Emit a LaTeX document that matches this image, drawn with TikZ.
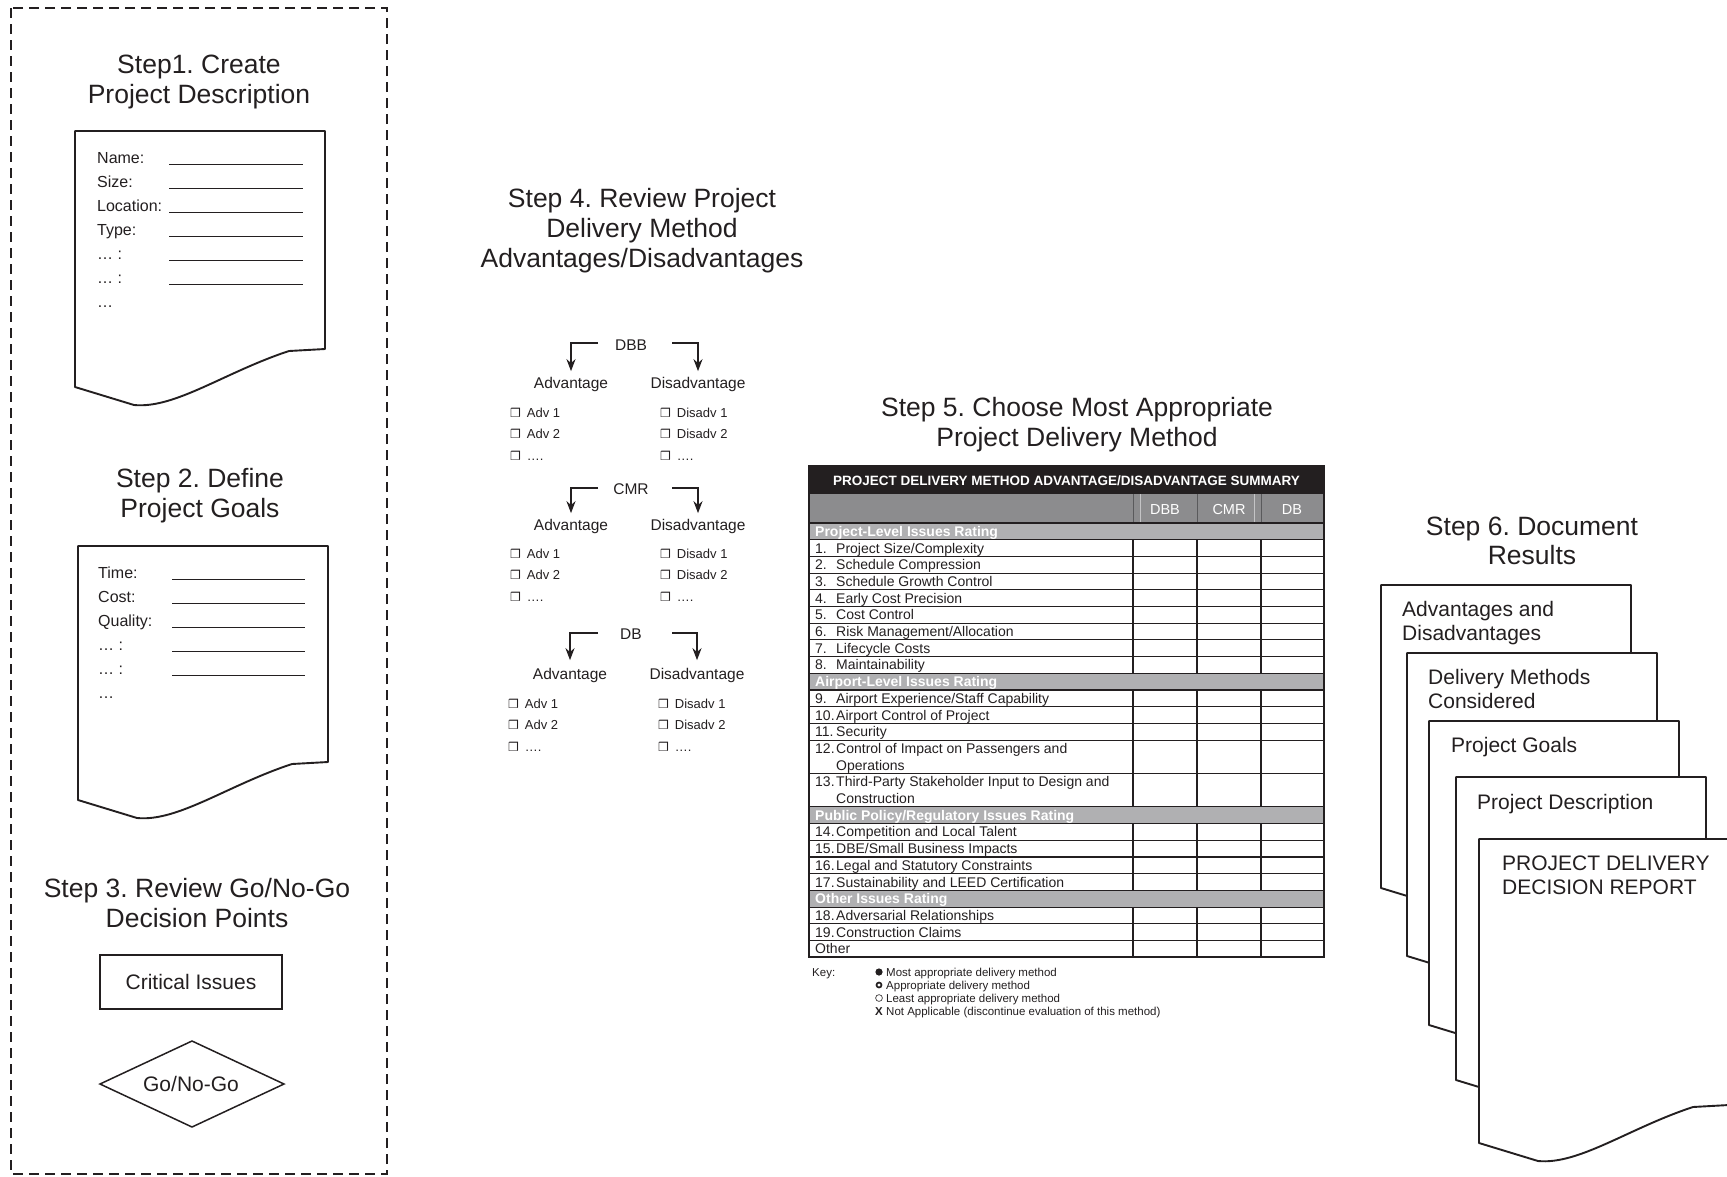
\documentclass[tikz,border=0pt]{standalone}
\usepackage{fontspec}
\setmainfont{Liberation Sans}
\newfontfamily\dejavu{DejaVu Sans}
\usetikzlibrary{arrows.meta}
\definecolor{ink}{HTML}{231F20}
\definecolor{hdrblack}{HTML}{231F20}
\definecolor{hdrgrey}{HTML}{8C8C8E}
\definecolor{secgrey}{HTML}{B0B0B2}
\definecolor{lightline}{HTML}{C4C4C6}
\definecolor{darkline}{HTML}{5A5A5C}
\newcommand\fsz[2]{\fontsize{#1}{#2}\selectfont}
% document shape: #1 left x, #2 left-bottom y, #3 left height
\newcommand\docshape[3]{%
  \path[docsty,shift={(#1,#2)}] (0,-#3) -- (250,-#3) -- (250,-38) -- (214,-36)
    .. controls (150,-15) and (100,22) .. (59,18) -- (0,0) -- cycle;}
% table row: #1 name, #2 row unit, #3 number, #4 text
\newcommand\trow[4]{%
  \node[tcell] (#1n) at (815,#2+0.8) {#3};
  \node[tcell] (#1) at (836,#2+0.8) {#4};}
\newcommand\chk{{\dejavu\fsz{12}{14}❒}\hspace{6pt}}
\frenchspacing
\begin{document}
\frenchspacing
\begin{tikzpicture}[x=1pt,y=-1pt,
  every node/.style={inner sep=0pt, text=ink},
  title/.style={anchor=base, font=\fsz{26.5}{30}},
  formlbl/.style={anchor=base west, font=\fsz{16}{19}},
  formline/.style={draw=ink, line width=0.8pt},
  docsty/.style={draw=ink, fill=white, line width=1.9pt, line join=round},
  method/.style={anchor=base, font=\fsz{15.5}{18}},
  item/.style={anchor=base west, font=\fsz{13}{15}},
  arr/.style={draw=ink, line width=2.4pt, -{Stealth[length=12pt,width=9pt]}},
  tcell/.style={anchor=base west, font=\fsz{14}{16}},
  tsec/.style={anchor=base west, font=\bfseries\fsz{14}{16}, text=white},
  tline/.style={draw=ink, line width=1.1pt},
  keytxt/.style={anchor=base west, font=\fsz{11.5}{13}},
  stacktxt/.style={anchor=base west, font=\fsz{21}{24}}]
\useasboundingbox (0,0) rectangle (1727,1176);
\clip (0,0) rectangle (1727,1176);

% ---------- dashed frame ----------
\draw[ink, line width=2.2pt, dash pattern=on 10pt off 6pt] (11,8) rectangle (387,1174);

% ---------- Step 1 ----------
\node[title] (t1a) at (199,73.5) {Step1. Create};
\node[title] (t1b) at (199,103.5) {Project Description};
\docshape{75}{387}{256}
\node[formlbl] (d1a) at (97,163) {Name:};
\node[formlbl] (d1b) at (97,187) {Size:};
\node[formlbl] (d1c) at (97,211) {Location:};
\node[formlbl] (d1d) at (97,235) {Type:};
\node[formlbl] (d1e) at (97,259) {… :};
\node[formlbl] (d1f) at (97,283) {… :};
\node[formlbl] (d1g) at (97,307) {…};
\foreach \yy in {163,187,211,235,259,283}
  \draw[formline] (169,\yy+1) -- (303,\yy+1);

% ---------- Step 2 ----------
\node[title] (t2a) at (200,487.5) {Step 2. Define};
\node[title] (t2b) at (200,517.5) {Project Goals};
\docshape{78}{800}{254}
\node[formlbl] (d2a) at (98,578) {Time:};
\node[formlbl] (d2b) at (98,602) {Cost:};
\node[formlbl] (d2c) at (98,626) {Quality:};
\node[formlbl] (d2d) at (98,650) {… :};
\node[formlbl] (d2e) at (98,674) {… :};
\node[formlbl] (d2f) at (98,698) {…};
\foreach \yy in {578,602,626,650,674}
  \draw[formline] (172,\yy+1) -- (305,\yy+1);

% ---------- Step 3 ----------
\node[title] (t3a) at (197,897.5) {Step 3. Review Go/No-Go};
\node[title] (t3b) at (197,927.5) {Decision Points};
\node[draw=ink, line width=1.9pt, minimum width=182pt, minimum height=54pt,
      font=\fsz{21}{25}] (crit) at (191,982) {Critical Issues};
\draw[ink, line width=1.5pt, line join=miter] (100,1084) -- (192,1041) -- (284,1084) -- (192,1127) -- cycle;
\node[font=\fsz{21}{25}] (gng) at (191,1084) {Go/No-Go};

% ---------- Step 4 ----------
\node[title] (t4a) at (642,207.5) {Step 4. Review Project};
\node[title] (t4b) at (642,237.5) {Delivery Method};
\node[title] (t4c) at (642,267.5) {Advantages/Disadvantages};

% DBB
\node[method] (dbb) at (631,350.5) {DBB};
\node[method] (advA) at (571,388.6) {Advantage};
\node[method] (disA) at (698,388.6) {Disadvantage};
\coordinate (dbbL) at (598,343);
\coordinate (dbbR) at (672,343);
\draw[arr] (dbbL) -| ([yshift=6pt]advA.north);
\draw[arr] (dbbR) -| ([yshift=6pt]disA.north);
\node[item] (a11) at (510,417) {\chk Adv 1};
\node[item] (a12) at (510,438.5) {\chk Adv 2};
\node[item] (a13) at (510,460) {\chk ….};
\node[item] (b11) at (660,417) {\chk Disadv 1};
\node[item] (b12) at (660,438.5) {\chk Disadv 2};
\node[item] (b13) at (660,460) {\chk ….};

% CMR
\node[method] (cmr) at (631,494.5) {CMR};
\node[method] (advB) at (571,530.6) {Advantage};
\node[method] (disB) at (698,530.6) {Disadvantage};
\coordinate (cmrL) at (598,488);
\coordinate (cmrR) at (672,488);
\draw[arr] (cmrL) -| ([yshift=6pt]advB.north);
\draw[arr] (cmrR) -| ([yshift=6pt]disB.north);
\node[item] (a21) at (510,558) {\chk Adv 1};
\node[item] (a22) at (510,579.5) {\chk Adv 2};
\node[item] (a23) at (510,601) {\chk ….};
\node[item] (b21) at (660,558) {\chk Disadv 1};
\node[item] (b22) at (660,579.5) {\chk Disadv 2};
\node[item] (b23) at (660,601) {\chk ….};

% DB
\node[method] (db) at (631,639.5) {DB};
\node[method] (advC) at (570,679.6) {Advantage};
\node[method] (disC) at (697,679.6) {Disadvantage};
\coordinate (dbL) at (598,633);
\coordinate (dbR) at (672,633);
\draw[arr] (dbL) -| ([yshift=8pt]advC.north);
\draw[arr] (dbR) -| ([yshift=8pt]disC.north);
\node[item] (a31) at (508,708) {\chk Adv 1};
\node[item] (a32) at (508,729.5) {\chk Adv 2};
\node[item] (a33) at (508,751) {\chk ….};
\node[item] (b31) at (658,708) {\chk Disadv 1};
\node[item] (b32) at (658,729.5) {\chk Disadv 2};
\node[item] (b33) at (658,751) {\chk ….};

% ---------- Step 5 ----------
\node[title] (t5a) at (1077,416.5) {Step 5. Choose Most Appropriate};
\node[title] (t5b) at (1077,446.5) {Project Delivery Method};

\fill[hdrblack] (809,466) rectangle (1324,494);
\node[anchor=base, font=\bfseries\fsz{13.5}{16}, text=white] (thead) at (1066.5,485)
  {PROJECT DELIVERY METHOD ADVANTAGE/DISADVANTAGE SUMMARY};
\fill[hdrgrey] (809,494) rectangle (1324,523);
\draw[darkline, line width=1pt] (1133,494) -- (1133,523) (1197,494) -- (1197,523) (1261,494) -- (1261,523);
\draw[lightline, line width=1pt] (1140,494) -- (1140,523) (1254,494) -- (1254,523);
\node[anchor=base, font=\fsz{14.5}{17}, text=white] (hdbb) at (1165,514) {DBB};
\node[anchor=base, font=\fsz{14.5}{17}, text=white] (hcmr) at (1229,514) {CMR};
\node[anchor=base, font=\fsz{14.5}{17}, text=white] (hdb) at (1292,514) {DB};

\begin{scope}[shift={(0,523)}, y=-16.7pt]
  \foreach \r in {0,9,17,22} \fill[secgrey] (809,\r) rectangle (1324,\r+1);
  \foreach \r in {0,...,13,15,17,18,...,26} \draw[tline] (809,\r) -- (1324,\r);
  \foreach \a/\b in {1/9,10/17,18/22,23/26}
    \foreach \xx in {1133,1197,1261} \draw[tline] (\xx,\a) -- (\xx,\b);
  \node[tsec] (s1) at (815,0.8) {Project-Level Issues Rating};
  \trow{r1}{1}{1.}{Project Size/Complexity}
  \trow{r2}{2}{2.}{Schedule Compression}
  \trow{r3}{3}{3.}{Schedule Growth Control}
  \trow{r4}{4}{4.}{Early Cost Precision}
  \trow{r5}{5}{5.}{Cost Control}
  \trow{r6}{6}{6.}{Risk Management/Allocation}
  \trow{r7}{7}{7.}{Lifecycle Costs}
  \trow{r8}{8}{8.}{Maintainability}
  \node[tsec] (s2) at (815,9.8) {Airport-Level Issues Rating};
  \trow{r9}{10}{9.}{Airport Experience/Staff Capability}
  \trow{r10}{11}{10.}{Airport Control of Project}
  \trow{r11}{12}{11.}{Security}
  \trow{r12}{13}{12.}{Control of Impact on Passengers and}
  \node[tcell] (r12b) at (836,14.8) {Operations};
  \trow{r13}{15}{13.}{Third-Party Stakeholder Input to Design and}
  \node[tcell] (r13b) at (836,16.8) {Construction};
  \node[tsec] (s3) at (815,17.8) {Public Policy/Regulatory Issues Rating};
  \trow{r14}{18}{14.}{Competition and Local Talent}
  \trow{r15}{19}{15.}{DBE/Small Business Impacts}
  \trow{r16}{20}{16.}{Legal and Statutory Constraints}
  \trow{r17}{21}{17.}{Sustainability and LEED Certification}
  \node[tsec] (s4) at (815,22.8) {Other Issues Rating};
  \trow{r18}{23}{18.}{Adversarial Relationships}
  \trow{r19}{24}{19.}{Construction Claims}
  \node[tcell] (rother) at (815,25.8) {Other};
\end{scope}
\draw[tline] (809,466) rectangle (1324,957);

% key
\node[keytxt] (key) at (812,976) {Key:};
\fill[ink] (879,972) circle (3.6);
\draw[ink, line width=1.7pt] (879,985) circle (2.5);
\draw[ink, line width=0.6pt] (879,998) circle (3.4);
\node[anchor=base, font=\bfseries\fsz{11.5}{13}] (kx) at (879,1015) {X};
\node[keytxt] (k1) at (886,976) {Most appropriate delivery method};
\node[keytxt] (k2) at (886,989) {Appropriate delivery method};
\node[keytxt] (k3) at (886,1002) {Least appropriate delivery method};
\node[keytxt] (k4) at (886,1015) {Not Applicable (discontinue evaluation of this method)};

% ---------- Step 6 ----------
\node[title] (t6a) at (1532,535.5) {Step 6. Document};
\node[title] (t6b) at (1532,564.5) {Results};
\docshape{1381}{888}{303}
\node[stacktxt] (sa1) at (1402,616.5) {Advantages and};
\node[stacktxt] (sa2) at (1402,640) {Disadvantages};
\docshape{1407}{956}{303}
\node[stacktxt] (sb1) at (1428,684.5) {Delivery Methods};
\node[stacktxt] (sb2) at (1428,708) {Considered};
\docshape{1429}{1025}{304}
\node[stacktxt] (sc1) at (1451,752.5) {Project Goals};
\docshape{1456}{1080}{303}
\node[stacktxt] (sd1) at (1477,809.5) {Project Description};
\docshape{1479}{1143}{304}
\node[stacktxt] (se1) at (1502,870) {PROJECT DELIVERY};
\node[stacktxt] (se2) at (1502,894) {DECISION REPORT};
\end{tikzpicture}
\end{document}
